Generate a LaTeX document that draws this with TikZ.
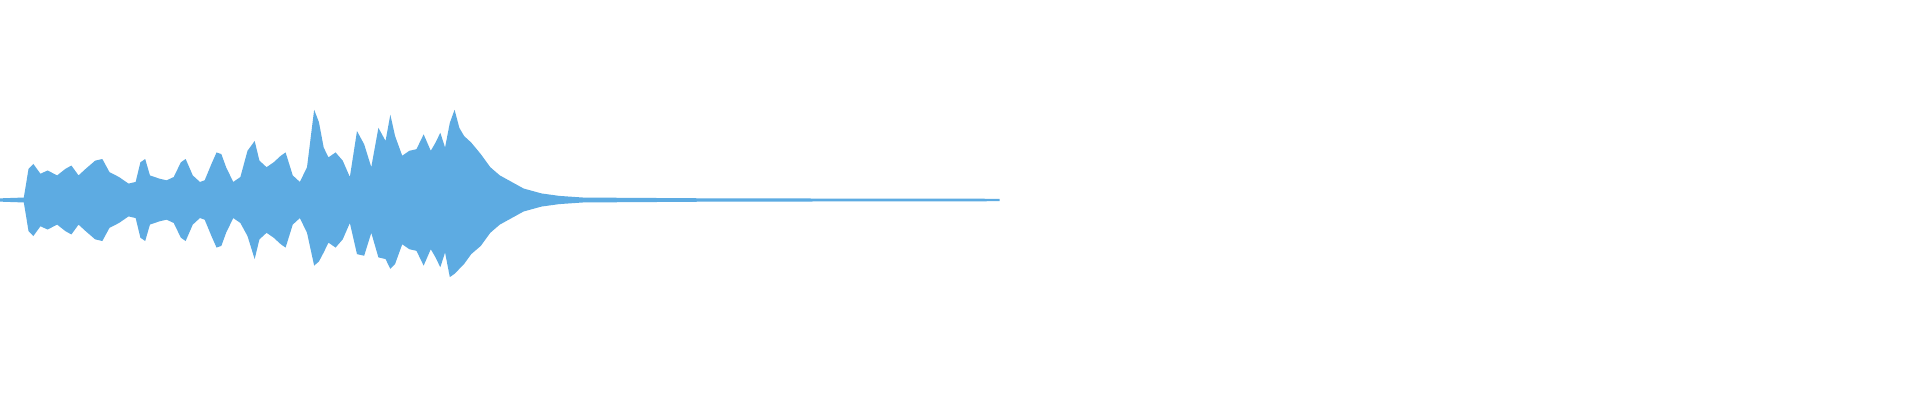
\documentclass[tikz,border=0pt]{standalone}
\definecolor{wave}{RGB}{93,171,226}
\begin{document}
\begin{tikzpicture}[x=0.01cm,y=-0.01cm]
\useasboundingbox[fill=white] (0,0) rectangle (1920,400);
\begin{scope}[shift={(0,200)},xscale=1.19,yscale=0.82]
\fill[wave] (0,0) -- plot[sharp corners] coordinates {(0,-2) (20,-3) (24,-38) (28,-44) (34,-32) (40,-36) (48,-30) (55,-38) (60,-42) (66,-30) (72,-38) (80,-48) (86,-50) (92,-34) (100,-28) (108,-20) (114,-22) (118,-46) (122,-50) (126,-30) (134,-26) (140,-24) (146,-28) (152,-46) (156,-50) (162,-30) (168,-22) (172,-24) (178,-45) (182,-58) (186,-56) (190,-40) (196,-22) (202,-28) (208,-60) (214,-72) (218,-48) (224,-40) (230,-46) (236,-54) (240,-58) (246,-30) (252,-22) (258,-40) (264,-110) (268,-95) (272,-64) (276,-52) (282,-58) (288,-48) (294,-28) (300,-84) (306,-68) (312,-40) (318,-88) (324,-72) (328,-104) (332,-78) (338,-54) (344,-60) (350,-62) (356,-80) (362,-60) (366,-70) (370,-82) (374,-64) (378,-94) (382,-110) (386,-88) (390,-78) (396,-70) (404,-56) (412,-40) (420,-30) (430,-22) (440,-14) (455,-8) (470,-5) (490,-3) (600,-2) (840,-1.5)} -- (840,1.5) -- plot[sharp corners] coordinates {(840,1.5) (600,2) (490,3) (470,5) (455,8) (440,14) (430,22) (420,30) (412,40) (404,56) (396,66) (390,78) (386,84) (382,90) (378,94) (374,64) (370,82) (366,70) (362,60) (356,80) (350,62) (344,60) (338,54) (332,78) (328,84) (324,72) (318,70) (312,40) (306,68) (300,66) (294,28) (288,48) (282,58) (276,52) (272,64) (268,75) (264,80) (258,40) (252,22) (246,30) (240,58) (236,54) (230,46) (224,40) (218,48) (214,72) (208,44) (202,28) (196,22) (190,40) (186,56) (182,58) (178,45) (172,24) (168,22) (162,30) (156,50) (152,46) (146,28) (140,24) (134,26) (126,30) (122,50) (118,46) (114,22) (108,20) (100,28) (92,34) (86,50) (80,48) (72,38) (66,30) (60,42) (55,38) (48,30) (40,36) (34,32) (28,44) (24,38) (20,3) (0,2)} -- cycle;
\end{scope}
\end{tikzpicture}
\end{document}
